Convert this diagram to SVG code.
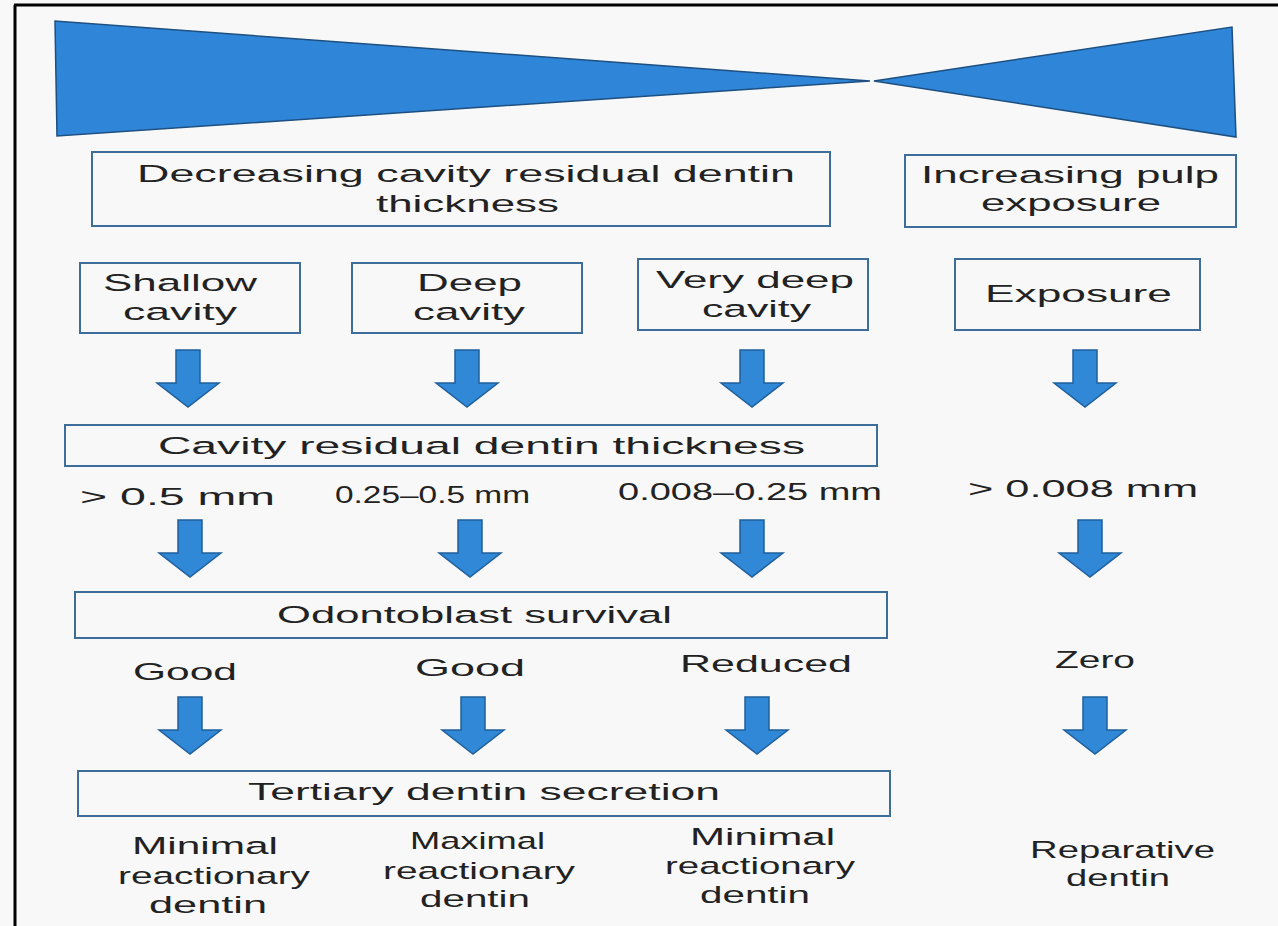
<svg xmlns="http://www.w3.org/2000/svg" width="1278" height="926" viewBox="0 0 1278 926">
<defs>
<style>
.t{font-family:"Liberation Sans",Arial,sans-serif;font-size:24.5px;fill:#222;}
.box{fill:none;stroke:#3d6e9a;stroke-width:2;}
.arr{fill:#3088d6;stroke:#1f5f9c;stroke-width:1.5;stroke-linejoin:miter;}
.tri{fill:#2f86d8;stroke:#1d4f80;stroke-width:1.5;}
</style>
<path id="arrow" class="arr" d="M-12,0 H12 V33 H31 L0,57 L-31,33 H-12 Z"/>
</defs>
<rect x="0" y="0" width="1278" height="926" fill="#f8f8f8"/>
<path d="M14,5 H1278 M15,5 V926" stroke="#000" stroke-width="3" fill="none"/>
<g id="wedges">
<polygon class="tri" points="55,21 57,136 870,81"/>
<polygon class="tri" points="874,81 1232,27 1236,137"/>
</g>
<g id="n-decreasing">
<rect class="box" x="92" y="152" width="738" height="74"/>
<text class="t" x="137" y="182" textLength="658" lengthAdjust="spacingAndGlyphs">Decreasing cavity residual dentin</text>
<text class="t" x="376" y="212" textLength="183" lengthAdjust="spacingAndGlyphs">thickness</text>
</g>
<g id="n-increasing">
<rect class="box" x="905" y="155" width="331" height="72"/>
<text class="t" x="921" y="183" textLength="298" lengthAdjust="spacingAndGlyphs">Increasing pulp</text>
<text class="t" x="981" y="211" textLength="180" lengthAdjust="spacingAndGlyphs">exposure</text>
</g>
<g id="n-shallow">
<rect class="box" x="80" y="263" width="220" height="70"/>
<text class="t" x="103" y="291" textLength="154" lengthAdjust="spacingAndGlyphs">Shallow</text>
<text class="t" x="123" y="320" textLength="114" lengthAdjust="spacingAndGlyphs">cavity</text>
</g>
<g id="n-deep">
<rect class="box" x="352" y="263" width="230" height="70"/>
<text class="t" x="417" y="291" textLength="105" lengthAdjust="spacingAndGlyphs">Deep</text>
<text class="t" x="413" y="320" textLength="112" lengthAdjust="spacingAndGlyphs">cavity</text>
</g>
<g id="n-verydeep">
<rect class="box" x="638" y="259" width="230" height="71"/>
<text class="t" x="656" y="288" textLength="198" lengthAdjust="spacingAndGlyphs">Very deep</text>
<text class="t" x="702" y="317" textLength="109" lengthAdjust="spacingAndGlyphs">cavity</text>
</g>
<g id="n-exposure">
<rect class="box" x="955" y="259" width="245" height="71"/>
<text class="t" x="985" y="302" textLength="187" lengthAdjust="spacingAndGlyphs">Exposure</text>
</g>
<g id="n-crdt">
<rect class="box" x="65" y="425" width="812" height="41"/>
<text class="t" x="158" y="454" textLength="647" lengthAdjust="spacingAndGlyphs">Cavity residual dentin thickness</text>
</g>
<g id="n-values">
<text class="t" x="80" y="505" textLength="195" lengthAdjust="spacingAndGlyphs">&gt; 0.5 mm</text>
<text class="t" x="335" y="503" textLength="195" lengthAdjust="spacingAndGlyphs">0.25–0.5 mm</text>
<text class="t" x="618" y="500" textLength="264" lengthAdjust="spacingAndGlyphs">0.008–0.25 mm</text>
<text class="t" x="968" y="497" textLength="230" lengthAdjust="spacingAndGlyphs">&gt; 0.008 mm</text>
</g>
<g id="n-odonto">
<rect class="box" x="75" y="592" width="812" height="46"/>
<text class="t" x="277" y="623" textLength="395" lengthAdjust="spacingAndGlyphs">Odontoblast survival</text>
</g>
<g id="n-survival">
<text class="t" x="133" y="680" textLength="104" lengthAdjust="spacingAndGlyphs">Good</text>
<text class="t" x="415" y="676" textLength="110" lengthAdjust="spacingAndGlyphs">Good</text>
<text class="t" x="680" y="672" textLength="172" lengthAdjust="spacingAndGlyphs">Reduced</text>
<text class="t" x="1055" y="668" textLength="80" lengthAdjust="spacingAndGlyphs">Zero</text>
</g>
<g id="n-tertiary">
<rect class="box" x="78" y="771" width="812" height="45"/>
<text class="t" x="248" y="800" textLength="472" lengthAdjust="spacingAndGlyphs">Tertiary dentin secretion</text>
</g>
<g id="n-outcome1">
<text class="t" x="132" y="854" textLength="146" lengthAdjust="spacingAndGlyphs">Minimal</text>
<text class="t" x="118" y="884" textLength="192" lengthAdjust="spacingAndGlyphs">reactionary</text>
<text class="t" x="149" y="913" textLength="118" lengthAdjust="spacingAndGlyphs">dentin</text>
</g>
<g id="n-outcome2">
<text class="t" x="410" y="849" textLength="135" lengthAdjust="spacingAndGlyphs">Maximal</text>
<text class="t" x="383" y="879" textLength="192" lengthAdjust="spacingAndGlyphs">reactionary</text>
<text class="t" x="420" y="907" textLength="110" lengthAdjust="spacingAndGlyphs">dentin</text>
</g>
<g id="n-outcome3">
<text class="t" x="690" y="845" textLength="145" lengthAdjust="spacingAndGlyphs">Minimal</text>
<text class="t" x="665" y="874" textLength="190" lengthAdjust="spacingAndGlyphs">reactionary</text>
<text class="t" x="700" y="903" textLength="110" lengthAdjust="spacingAndGlyphs">dentin</text>
</g>
<g id="n-outcome4">
<text class="t" x="1030" y="858" textLength="185" lengthAdjust="spacingAndGlyphs">Reparative</text>
<text class="t" x="1066" y="886" textLength="104" lengthAdjust="spacingAndGlyphs">dentin</text>
</g>
<g id="connectors">
<use href="#arrow" x="188" y="350"/>
<use href="#arrow" x="467" y="350"/>
<use href="#arrow" x="752" y="350"/>
<use href="#arrow" x="1085" y="350"/>
<use href="#arrow" x="190" y="520"/>
<use href="#arrow" x="470" y="520"/>
<use href="#arrow" x="752" y="520"/>
<use href="#arrow" x="1090" y="520"/>
<use href="#arrow" x="190" y="697"/>
<use href="#arrow" x="473" y="697"/>
<use href="#arrow" x="757" y="697"/>
<use href="#arrow" x="1095" y="697"/>
</g>
</svg>
